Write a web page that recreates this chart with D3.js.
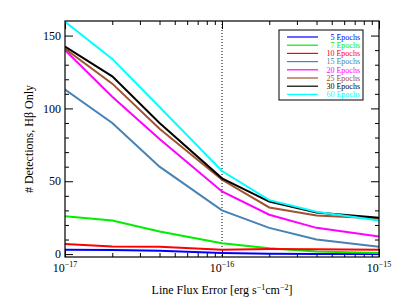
<!DOCTYPE html>
<html>
<head>
<meta charset="utf-8">
<script src="https://cdn.jsdelivr.net/npm/d3@7"></script>
<style>
  body { margin: 0; background: #fff; }
  svg text { font-family: "Liberation Serif", "DejaVu Serif", serif; }
</style>
</head>
<body>
<svg id="chart" width="399" height="299"></svg>
<script>
// line flux error grid (erg s^-1 cm^-2)
var fluxErr = [1e-17, 2e-17, 4e-17, 1e-16, 2e-16, 4e-16, 1e-15];

// detections per number of epochs
var epochs5  = [3, 2.8, 2.3, 0.8, 0.3, 0, 0];
var epochs7  = [26, 23, 15.5, 7.5, 4, 1.8, 0.8];
var epochs10 = [7, 5.2, 5, 3, 3.5, 3.3, 3];
var epochs15 = [113, 90, 60, 30, 18, 10, 5];
var epochs20 = [140, 108, 79, 43, 27, 18, 12];
var epochs25 = [141, 117, 86, 51, 32, 26.5, 24.5];
var epochs30 = [142.5, 122, 90, 52, 36, 28.5, 25];
var epochs60 = [159.5, 134, 101, 57, 37, 29, 23];

var seriesNames = ["5 Epochs", "7 Epochs", "10 Epochs", "15 Epochs",
                   "20 Epochs", "25 Epochs", "30 Epochs", "60 Epochs"];
var seriesValues = [epochs5, epochs7, epochs10, epochs15,
                    epochs20, epochs25, epochs30, epochs60];

var yTicks = [0, 50, 100, 150];
var xTickExps = [-17, -16, -15];

var colors = ["#0000ff", "#00ee00", "#ff0000", "#4682b4",
              "#ff00ff", "#a0522d", "#000000", "#00ffff"];

var svg = d3.select("#chart");
// note: "top" is taken by window.top, so plot edges get their own names
var pLeft = 65, pRight = 379, pTop = 21, pBottom = 257;

var x = d3.scaleLog().domain([1e-17, 1e-15]).range([pLeft, pRight]);
var y = d3.scaleLinear().domain([-2, 160]).range([pBottom, pTop]);

var xMajor = xTickExps.map(function(e) { return Math.pow(10, e); });

// minor ticks
var xMinor = [];
[1e-17, 1e-16].forEach(function(d) {
  for (var k = 2; k <= 9; k++) xMinor.push(d * k);
});
var yMinor = d3.range(10, 160, 10).filter(function(v) { return v % 50 != 0; });

function addAxis(axis, tr) {
  var g = svg.append("g").attr("transform", tr).call(axis);
  g.select(".domain").remove();
  g.selectAll("text").remove();
  g.selectAll("line").attr("stroke", "#000");
  return g;
}

addAxis(d3.axisBottom(x).tickValues(xMajor).tickSize(-8), "translate(0," + pBottom + ")");
addAxis(d3.axisBottom(x).tickValues(xMinor).tickSize(-4), "translate(0," + pBottom + ")");
addAxis(d3.axisTop(x).tickValues(xMajor).tickSize(-8), "translate(0," + pTop + ")");
addAxis(d3.axisTop(x).tickValues(xMinor).tickSize(-4), "translate(0," + pTop + ")");
addAxis(d3.axisLeft(y).tickValues(yTicks).tickSize(-8), "translate(" + pLeft + ",0)");
addAxis(d3.axisLeft(y).tickValues(yMinor).tickSize(-4), "translate(" + pLeft + ",0)");
addAxis(d3.axisRight(y).tickValues(yTicks).tickSize(-8), "translate(" + pRight + ",0)");
addAxis(d3.axisRight(y).tickValues(yMinor).tickSize(-4), "translate(" + pRight + ",0)");

// dotted line at 1e-16
svg.append("line")
  .attr("x1", x(1e-16)).attr("x2", x(1e-16))
  .attr("y1", pTop).attr("y2", pBottom)
  .attr("stroke", "#000").attr("stroke-width", 1)
  .attr("stroke-dasharray", "1,2");

var line = d3.line()
  .x(function(d, i) { return x(fluxErr[i]); })
  .y(function(d) { return y(d); });

svg.append("defs").append("clipPath").attr("id", "clip")
  .append("rect").attr("x", pLeft).attr("y", pTop)
  .attr("width", pRight - pLeft).attr("height", pBottom - pTop);

svg.append("g").attr("clip-path", "url(#clip)")
  .selectAll("path")
  .data(seriesValues)
  .enter().append("path")
    .attr("d", line)
    .attr("fill", "none")
    .attr("stroke", function(d, i) { return colors[i]; })
    .attr("stroke-width", 2);

// frame
svg.append("rect")
  .attr("x", pLeft).attr("y", pTop)
  .attr("width", pRight - pLeft).attr("height", pBottom - pTop)
  .attr("fill", "none").attr("stroke", "#000").attr("stroke-width", 1.2);

// y tick labels
svg.selectAll(".ylab")
  .data(yTicks)
  .enter().append("text")
    .attr("x", pLeft - 4)
    .attr("y", function(d) { return y(d); })
    .attr("dy", "0.35em")
    .attr("text-anchor", "end")
    .attr("font-size", 12)
    .text(function(d) { return d; });

// x tick labels with exponents
var xl = svg.selectAll(".xlab")
  .data(xTickExps)
  .enter().append("text")
    .attr("x", function(d) { return x(Math.pow(10, d)); })
    .attr("y", pBottom + 15)
    .attr("text-anchor", "middle")
    .attr("font-size", 12);
xl.append("tspan").text("10");
xl.append("tspan").attr("dy", -5).attr("font-size", 8)
  .text(function(d) { return "\u2212" + (-d); });

// axis titles
var xt = svg.append("text")
  .attr("x", (pLeft + pRight) / 2).attr("y", pBottom + 37)
  .attr("text-anchor", "middle").attr("font-size", 12);
xt.append("tspan").text("Line Flux Error [erg s");
xt.append("tspan").attr("dy", -4).attr("font-size", 8).text("\u22121");
xt.append("tspan").attr("dy", 4).text("cm");
xt.append("tspan").attr("dy", -4).attr("font-size", 8).text("\u22122");
xt.append("tspan").attr("dy", 4).text("]");

svg.append("text")
  .attr("transform", "translate(33," + ((pTop + pBottom) / 2) + ") rotate(-90)")
  .attr("text-anchor", "middle").attr("font-size", 12)
  .text("# Detections, H\u03b2 Only");

// legend
var lg = svg.append("g");
lg.append("rect")
  .attr("x", 279).attr("y", 30).attr("width", 84).attr("height", 70)
  .attr("fill", "#fff").attr("stroke", "#000").attr("stroke-width", 1);
var rows = lg.selectAll(".row")
  .data(seriesNames)
  .enter().append("g")
    .attr("transform", function(d, i) { return "translate(0," + (37 + i * 8.2) + ")"; });
rows.append("line")
  .attr("x1", 287).attr("x2", 318)
  .attr("stroke", function(d, i) { return colors[i]; })
  .attr("stroke-width", 1.2);
rows.append("text")
  .attr("x", 360).attr("dy", "0.35em")
  .attr("text-anchor", "end").attr("font-size", 8)
  .attr("fill", function(d, i) { return colors[i]; })
  .text(function(d) { return d; });
</script>
</body>
</html>
